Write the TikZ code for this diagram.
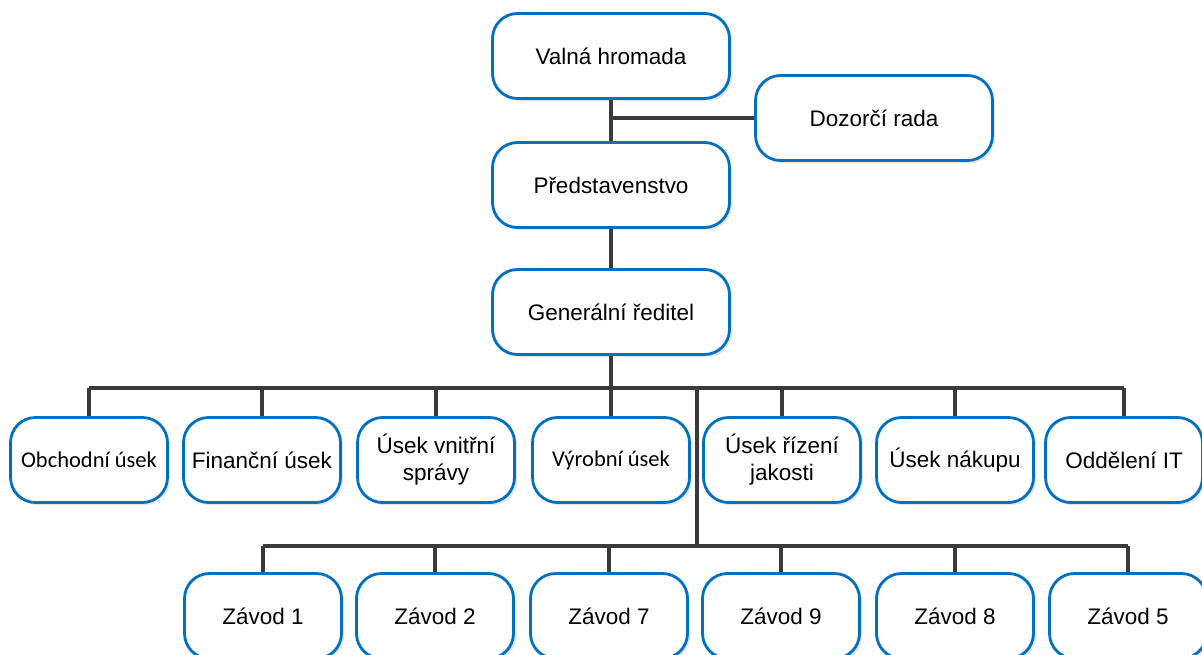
\documentclass[tikz,border=0pt]{standalone}
\usepackage{fontspec}
\setmainfont{Liberation Sans}
\newfontfamily\calib{Carlito}
\usetikzlibrary{shadows}
\definecolor{boxblue}{HTML}{0070C0}
\definecolor{linegray}{HTML}{3A3A3A}
\tikzset{unit/.style={draw=boxblue,line width=1.6pt,rounded corners=.5cm,fill=white,minimum width=3.14cm,minimum height=1.7cm,align=center,font=\fontsize{12.8}{15.3}\selectfont,drop shadow={shadow xshift=1.5pt,shadow yshift=-1.5pt,opacity=.2}},wide/.style={unit,minimum width=4.74cm},link/.style={draw=linegray,line width=1.8pt}}

\begin{document}
\begin{tikzpicture}[x=.02cm,y=-.02cm]
\useasboundingbox (0,0) rectangle (1202,655);\clip (0,0) rectangle (1202,655);
\node[wide] (vh) at (611,56){Valná hromada};\node[wide] (dr) at (874,118){Dozorčí rada};
\node[wide] (pr) at (611,185){Představenstvo};\node[wide] (gr) at (611,312){Generální ředitel};
\coordinate (bus) at (611,388);\coordinate (fork) at (697,388);\coordinate (bus2) at (697,546);
% useky
\foreach \x/\n/\t in {89/obch/{\calib Obchodní úsek},262/fin/{Finanční úsek},436/spr/{Úsek vnitřní\\správy},611/vyr/{\calib Výrobní úsek},782/jak/{Úsek řízení\\jakosti},955/nak/{Úsek nákupu},1124/it/{Oddělení IT}}{\node[unit] (\n) at (\x,460){\t};\draw[link] (\n.north) -- (\n.north |- bus);}
% zavody
\foreach \x/\n/\t in {263/z1/1,435/z2/2,609/z7/7,781/z9/9,955/z8/8,1128/z5/5}{\node[unit] (\n) at (\x,616){Závod \t};\draw[link] (\n.north) -- (\n.north |- bus2);}
\draw[link] (vh) -- (pr);\draw[link] (vh.south |- dr.west) -- (dr.west);\draw[link] (pr) -- (gr);
\draw[link] (gr.south) -- (bus);\draw[link] (obch.north |- bus) -- (it.north |- bus);
\draw[link] (fork) -- (bus2);\draw[link] (z1.north |- bus2) -- (z5.north |- bus2);
\end{tikzpicture}
\end{document}
